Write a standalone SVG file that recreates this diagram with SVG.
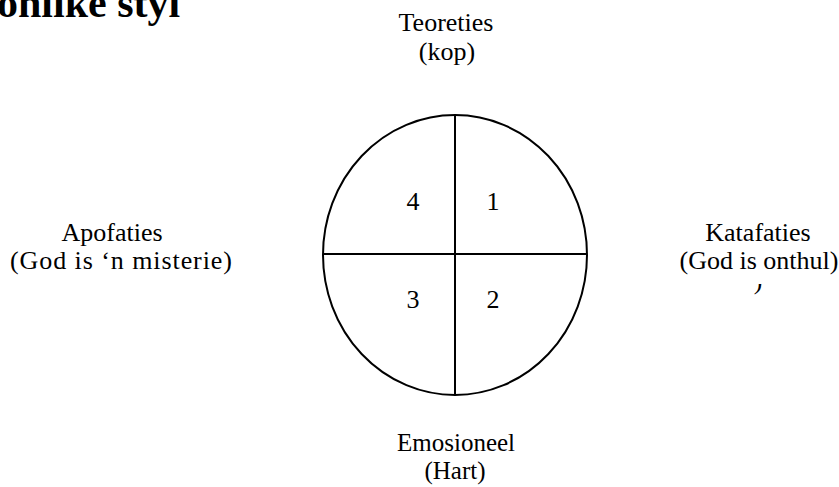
<svg xmlns="http://www.w3.org/2000/svg" width="839" height="487" viewBox="0 0 839 487">
<defs>
<style>
.t{font-family:'Liberation Serif','Times New Roman',Times,serif;font-size:26px;fill:#000;text-anchor:middle}
.b{font-size:25px}
.h{font-family:'Liberation Serif','Times New Roman',Times,serif;font-size:42px;font-weight:bold;fill:#000}
.s{fill:none;stroke:#000;stroke-width:2}
</style>
<clipPath id="pc"><rect x="740" y="284" width="40" height="20"/></clipPath>
</defs>
<rect width="839" height="487" fill="#fff"/>
<g id="title"><text class="h" x="-3" y="17">onlike styl</text></g>
<g id="circle">
<ellipse class="s" cx="455" cy="255" rx="132" ry="140"/>
</g>
<g id="connectors">
<line class="s" x1="455" y1="115" x2="455" y2="395"/>
<line class="s" x1="323" y1="254" x2="587" y2="254"/>
</g>
<g id="q4"><text class="t" x="413" y="210">4</text></g>
<g id="q1"><text class="t" x="493" y="210">1</text></g>
<g id="q3"><text class="t" x="413" y="308">3</text></g>
<g id="q2"><text class="t" x="493" y="308">2</text></g>
<g id="top"><text class="t" x="446" y="31">Teoreties</text><text class="t" x="447" y="60">(kop)</text></g>
<g id="left"><text class="t" x="112" y="241">Apofaties</text><text class="t" x="121" y="269" textLength="222" lengthAdjust="spacing">(God is ‘n misterie)</text></g>
<g id="right"><text class="t" x="758" y="241">Katafaties</text><text class="t" x="759" y="269">(God is onthul)</text>
<text class="t" x="758" y="289" clip-path="url(#pc)">)</text></g>
<g id="bottom"><text class="t b" x="456" y="451">Emosioneel</text><text class="t b" x="455" y="479">(Hart)</text></g>
</svg>
